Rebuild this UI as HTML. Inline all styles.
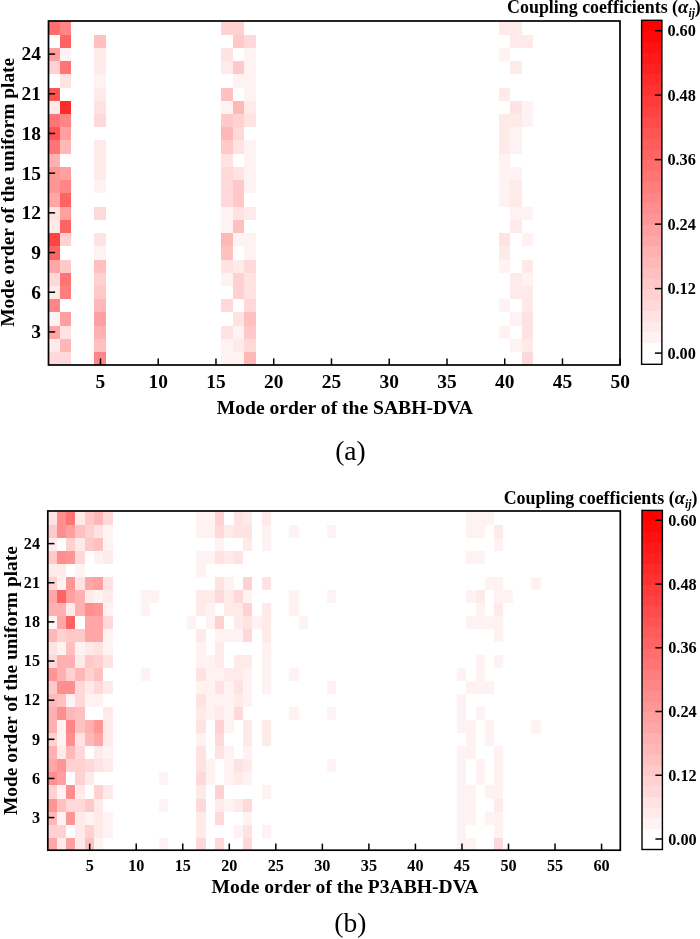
<!DOCTYPE html>
<html><head><meta charset="utf-8"><title>Coupling coefficients</title>
<style>html,body{margin:0;padding:0;background:#fff}svg{display:block;will-change:transform}
.b{font-family:"Liberation Serif",serif;font-weight:bold;fill:#000}
.r{font-family:"Liberation Serif",serif;font-size:27.5px;fill:#000}
</style></head><body>
<svg width="700" height="939" viewBox="0 0 700 939">
<rect width="700" height="939" fill="#fff"/>
<clipPath id="cpa"><rect x="48.5" y="21" width="571.5" height="344"/></clipPath>
<g shape-rendering="crispEdges" clip-path="url(#cpa)">
<rect x="48" y="352" width="12" height="13" fill="rgb(255,217,217)"/>
<rect x="48" y="339" width="12" height="13" fill="rgb(255,234,234)"/>
<rect x="48" y="326" width="12" height="13" fill="rgb(255,167,167)"/>
<rect x="48" y="312" width="12" height="14" fill="rgb(255,242,242)"/>
<rect x="48" y="299" width="12" height="13" fill="rgb(255,134,134)"/>
<rect x="48" y="286" width="12" height="13" fill="rgb(255,234,234)"/>
<rect x="48" y="273" width="12" height="13" fill="rgb(255,217,217)"/>
<rect x="48" y="260" width="12" height="13" fill="rgb(255,167,167)"/>
<rect x="48" y="246" width="12" height="14" fill="rgb(255,100,100)"/>
<rect x="48" y="233" width="12" height="13" fill="rgb(255,67,67)"/>
<rect x="48" y="220" width="12" height="13" fill="rgb(255,234,234)"/>
<rect x="48" y="207" width="12" height="13" fill="rgb(255,226,226)"/>
<rect x="48" y="193" width="12" height="14" fill="rgb(255,167,167)"/>
<rect x="48" y="180" width="12" height="13" fill="rgb(255,150,150)"/>
<rect x="48" y="167" width="12" height="13" fill="rgb(255,150,150)"/>
<rect x="48" y="154" width="12" height="13" fill="rgb(255,176,176)"/>
<rect x="48" y="140" width="12" height="14" fill="rgb(255,117,117)"/>
<rect x="48" y="127" width="12" height="13" fill="rgb(255,84,84)"/>
<rect x="48" y="114" width="12" height="13" fill="rgb(255,117,117)"/>
<rect x="48" y="101" width="12" height="13" fill="rgb(255,234,234)"/>
<rect x="48" y="88" width="12" height="13" fill="rgb(255,84,84)"/>
<rect x="48" y="61" width="12" height="13" fill="rgb(255,209,209)"/>
<rect x="48" y="48" width="12" height="13" fill="rgb(255,159,159)"/>
<rect x="48" y="21" width="12" height="14" fill="rgb(255,109,109)"/>
<rect x="60" y="352" width="11" height="13" fill="rgb(255,217,217)"/>
<rect x="60" y="339" width="11" height="13" fill="rgb(255,184,184)"/>
<rect x="60" y="326" width="11" height="13" fill="rgb(255,226,226)"/>
<rect x="60" y="312" width="11" height="14" fill="rgb(255,159,159)"/>
<rect x="60" y="286" width="11" height="13" fill="rgb(255,125,125)"/>
<rect x="60" y="273" width="11" height="13" fill="rgb(255,117,117)"/>
<rect x="60" y="260" width="11" height="13" fill="rgb(255,201,201)"/>
<rect x="60" y="233" width="11" height="13" fill="rgb(255,209,209)"/>
<rect x="60" y="220" width="11" height="13" fill="rgb(255,100,100)"/>
<rect x="60" y="207" width="11" height="13" fill="rgb(255,159,159)"/>
<rect x="60" y="193" width="11" height="14" fill="rgb(255,100,100)"/>
<rect x="60" y="180" width="11" height="13" fill="rgb(255,134,134)"/>
<rect x="60" y="167" width="11" height="13" fill="rgb(255,159,159)"/>
<rect x="60" y="140" width="11" height="14" fill="rgb(255,184,184)"/>
<rect x="60" y="127" width="11" height="13" fill="rgb(255,159,159)"/>
<rect x="60" y="114" width="11" height="13" fill="rgb(255,134,134)"/>
<rect x="60" y="101" width="11" height="13" fill="rgb(255,42,42)"/>
<rect x="60" y="74" width="11" height="14" fill="rgb(255,226,226)"/>
<rect x="60" y="61" width="11" height="13" fill="rgb(255,117,117)"/>
<rect x="60" y="48" width="11" height="13" fill="rgb(255,242,242)"/>
<rect x="60" y="35" width="11" height="13" fill="rgb(255,100,100)"/>
<rect x="60" y="21" width="11" height="14" fill="rgb(255,134,134)"/>
<rect x="94" y="352" width="12" height="13" fill="rgb(255,134,134)"/>
<rect x="94" y="339" width="12" height="13" fill="rgb(255,192,192)"/>
<rect x="94" y="326" width="12" height="13" fill="rgb(255,176,176)"/>
<rect x="94" y="312" width="12" height="14" fill="rgb(255,159,159)"/>
<rect x="94" y="299" width="12" height="13" fill="rgb(255,184,184)"/>
<rect x="94" y="286" width="12" height="13" fill="rgb(255,201,201)"/>
<rect x="94" y="273" width="12" height="13" fill="rgb(255,209,209)"/>
<rect x="94" y="260" width="12" height="13" fill="rgb(255,192,192)"/>
<rect x="94" y="246" width="12" height="14" fill="rgb(255,242,242)"/>
<rect x="94" y="233" width="12" height="13" fill="rgb(255,226,226)"/>
<rect x="94" y="207" width="12" height="13" fill="rgb(255,217,217)"/>
<rect x="94" y="180" width="12" height="13" fill="rgb(255,242,242)"/>
<rect x="94" y="167" width="12" height="13" fill="rgb(255,234,234)"/>
<rect x="94" y="154" width="12" height="13" fill="rgb(255,234,234)"/>
<rect x="94" y="140" width="12" height="14" fill="rgb(255,234,234)"/>
<rect x="94" y="114" width="12" height="13" fill="rgb(255,217,217)"/>
<rect x="94" y="101" width="12" height="13" fill="rgb(255,226,226)"/>
<rect x="94" y="88" width="12" height="13" fill="rgb(255,234,234)"/>
<rect x="94" y="74" width="12" height="14" fill="rgb(255,242,242)"/>
<rect x="94" y="61" width="12" height="13" fill="rgb(255,234,234)"/>
<rect x="94" y="48" width="12" height="13" fill="rgb(255,234,234)"/>
<rect x="94" y="35" width="12" height="13" fill="rgb(255,192,192)"/>
<rect x="221" y="352" width="12" height="13" fill="rgb(255,242,242)"/>
<rect x="221" y="339" width="12" height="13" fill="rgb(255,242,242)"/>
<rect x="221" y="326" width="12" height="13" fill="rgb(255,226,226)"/>
<rect x="221" y="299" width="12" height="13" fill="rgb(255,217,217)"/>
<rect x="221" y="273" width="12" height="13" fill="rgb(255,242,242)"/>
<rect x="221" y="260" width="12" height="13" fill="rgb(255,226,226)"/>
<rect x="221" y="246" width="12" height="14" fill="rgb(255,192,192)"/>
<rect x="221" y="233" width="12" height="13" fill="rgb(255,184,184)"/>
<rect x="221" y="220" width="12" height="13" fill="rgb(255,242,242)"/>
<rect x="221" y="207" width="12" height="13" fill="rgb(255,242,242)"/>
<rect x="221" y="193" width="12" height="14" fill="rgb(255,217,217)"/>
<rect x="221" y="180" width="12" height="13" fill="rgb(255,217,217)"/>
<rect x="221" y="167" width="12" height="13" fill="rgb(255,217,217)"/>
<rect x="221" y="154" width="12" height="13" fill="rgb(255,226,226)"/>
<rect x="221" y="140" width="12" height="14" fill="rgb(255,201,201)"/>
<rect x="221" y="127" width="12" height="13" fill="rgb(255,184,184)"/>
<rect x="221" y="114" width="12" height="13" fill="rgb(255,201,201)"/>
<rect x="221" y="101" width="12" height="13" fill="rgb(255,242,242)"/>
<rect x="221" y="88" width="12" height="13" fill="rgb(255,192,192)"/>
<rect x="221" y="61" width="12" height="13" fill="rgb(255,234,234)"/>
<rect x="221" y="48" width="12" height="13" fill="rgb(255,226,226)"/>
<rect x="221" y="21" width="12" height="14" fill="rgb(255,209,209)"/>
<rect x="233" y="352" width="11" height="13" fill="rgb(255,242,242)"/>
<rect x="233" y="339" width="11" height="13" fill="rgb(255,234,234)"/>
<rect x="233" y="326" width="11" height="13" fill="rgb(255,242,242)"/>
<rect x="233" y="312" width="11" height="14" fill="rgb(255,226,226)"/>
<rect x="233" y="286" width="11" height="13" fill="rgb(255,209,209)"/>
<rect x="233" y="273" width="11" height="13" fill="rgb(255,209,209)"/>
<rect x="233" y="260" width="11" height="13" fill="rgb(255,234,234)"/>
<rect x="233" y="233" width="11" height="13" fill="rgb(255,242,242)"/>
<rect x="233" y="220" width="11" height="13" fill="rgb(255,192,192)"/>
<rect x="233" y="207" width="11" height="13" fill="rgb(255,226,226)"/>
<rect x="233" y="193" width="11" height="14" fill="rgb(255,201,201)"/>
<rect x="233" y="180" width="11" height="13" fill="rgb(255,201,201)"/>
<rect x="233" y="167" width="11" height="13" fill="rgb(255,226,226)"/>
<rect x="233" y="140" width="11" height="14" fill="rgb(255,226,226)"/>
<rect x="233" y="127" width="11" height="13" fill="rgb(255,217,217)"/>
<rect x="233" y="114" width="11" height="13" fill="rgb(255,209,209)"/>
<rect x="233" y="101" width="11" height="13" fill="rgb(255,184,184)"/>
<rect x="233" y="74" width="11" height="14" fill="rgb(255,242,242)"/>
<rect x="233" y="61" width="11" height="13" fill="rgb(255,201,201)"/>
<rect x="233" y="35" width="11" height="13" fill="rgb(255,201,201)"/>
<rect x="233" y="21" width="11" height="14" fill="rgb(255,209,209)"/>
<rect x="244" y="352" width="12" height="13" fill="rgb(255,184,184)"/>
<rect x="244" y="339" width="12" height="13" fill="rgb(255,217,217)"/>
<rect x="244" y="326" width="12" height="13" fill="rgb(255,201,201)"/>
<rect x="244" y="312" width="12" height="14" fill="rgb(255,192,192)"/>
<rect x="244" y="299" width="12" height="13" fill="rgb(255,217,217)"/>
<rect x="244" y="286" width="12" height="13" fill="rgb(255,226,226)"/>
<rect x="244" y="273" width="12" height="13" fill="rgb(255,226,226)"/>
<rect x="244" y="260" width="12" height="13" fill="rgb(255,217,217)"/>
<rect x="244" y="246" width="12" height="14" fill="rgb(255,242,242)"/>
<rect x="244" y="233" width="12" height="13" fill="rgb(255,242,242)"/>
<rect x="244" y="207" width="12" height="13" fill="rgb(255,234,234)"/>
<rect x="244" y="180" width="12" height="13" fill="rgb(255,242,242)"/>
<rect x="244" y="167" width="12" height="13" fill="rgb(255,242,242)"/>
<rect x="244" y="154" width="12" height="13" fill="rgb(255,242,242)"/>
<rect x="244" y="140" width="12" height="14" fill="rgb(255,242,242)"/>
<rect x="244" y="114" width="12" height="13" fill="rgb(255,226,226)"/>
<rect x="244" y="101" width="12" height="13" fill="rgb(255,234,234)"/>
<rect x="244" y="88" width="12" height="13" fill="rgb(255,242,242)"/>
<rect x="244" y="74" width="12" height="14" fill="rgb(255,242,242)"/>
<rect x="244" y="61" width="12" height="13" fill="rgb(255,242,242)"/>
<rect x="244" y="48" width="12" height="13" fill="rgb(255,242,242)"/>
<rect x="244" y="35" width="12" height="13" fill="rgb(255,217,217)"/>
<rect x="499" y="326" width="11" height="13" fill="rgb(255,242,242)"/>
<rect x="499" y="299" width="11" height="13" fill="rgb(255,242,242)"/>
<rect x="499" y="260" width="11" height="13" fill="rgb(255,242,242)"/>
<rect x="499" y="246" width="11" height="14" fill="rgb(255,234,234)"/>
<rect x="499" y="233" width="11" height="13" fill="rgb(255,226,226)"/>
<rect x="499" y="193" width="11" height="14" fill="rgb(255,242,242)"/>
<rect x="499" y="180" width="11" height="13" fill="rgb(255,242,242)"/>
<rect x="499" y="167" width="11" height="13" fill="rgb(255,242,242)"/>
<rect x="499" y="154" width="11" height="13" fill="rgb(255,242,242)"/>
<rect x="499" y="140" width="11" height="14" fill="rgb(255,234,234)"/>
<rect x="499" y="127" width="11" height="13" fill="rgb(255,234,234)"/>
<rect x="499" y="114" width="11" height="13" fill="rgb(255,234,234)"/>
<rect x="499" y="88" width="11" height="13" fill="rgb(255,234,234)"/>
<rect x="499" y="48" width="11" height="13" fill="rgb(255,242,242)"/>
<rect x="499" y="21" width="11" height="14" fill="rgb(255,234,234)"/>
<rect x="510" y="339" width="12" height="13" fill="rgb(255,242,242)"/>
<rect x="510" y="312" width="12" height="14" fill="rgb(255,242,242)"/>
<rect x="510" y="286" width="12" height="13" fill="rgb(255,234,234)"/>
<rect x="510" y="273" width="12" height="13" fill="rgb(255,234,234)"/>
<rect x="510" y="220" width="12" height="13" fill="rgb(255,234,234)"/>
<rect x="510" y="207" width="12" height="13" fill="rgb(255,242,242)"/>
<rect x="510" y="193" width="12" height="14" fill="rgb(255,234,234)"/>
<rect x="510" y="180" width="12" height="13" fill="rgb(255,234,234)"/>
<rect x="510" y="167" width="12" height="13" fill="rgb(255,242,242)"/>
<rect x="510" y="140" width="12" height="14" fill="rgb(255,242,242)"/>
<rect x="510" y="127" width="12" height="13" fill="rgb(255,242,242)"/>
<rect x="510" y="114" width="12" height="13" fill="rgb(255,234,234)"/>
<rect x="510" y="101" width="12" height="13" fill="rgb(255,226,226)"/>
<rect x="510" y="61" width="12" height="13" fill="rgb(255,234,234)"/>
<rect x="510" y="35" width="12" height="13" fill="rgb(255,234,234)"/>
<rect x="510" y="21" width="12" height="14" fill="rgb(255,234,234)"/>
<rect x="522" y="352" width="11" height="13" fill="rgb(255,217,217)"/>
<rect x="522" y="339" width="11" height="13" fill="rgb(255,234,234)"/>
<rect x="522" y="326" width="11" height="13" fill="rgb(255,226,226)"/>
<rect x="522" y="312" width="11" height="14" fill="rgb(255,226,226)"/>
<rect x="522" y="299" width="11" height="13" fill="rgb(255,234,234)"/>
<rect x="522" y="286" width="11" height="13" fill="rgb(255,234,234)"/>
<rect x="522" y="273" width="11" height="13" fill="rgb(255,242,242)"/>
<rect x="522" y="260" width="11" height="13" fill="rgb(255,234,234)"/>
<rect x="522" y="233" width="11" height="13" fill="rgb(255,242,242)"/>
<rect x="522" y="207" width="11" height="13" fill="rgb(255,242,242)"/>
<rect x="522" y="114" width="11" height="13" fill="rgb(255,242,242)"/>
<rect x="522" y="101" width="11" height="13" fill="rgb(255,242,242)"/>
<rect x="522" y="35" width="11" height="13" fill="rgb(255,234,234)"/>
</g>
<rect x="48.5" y="21" width="571.5" height="344" fill="none" stroke="#000" stroke-width="1.7"/>
<line x1="48.5" x2="55.1" y1="331.92" y2="331.92" stroke="#000" stroke-width="1.5"/>
<text x="40.9" y="338.28" text-anchor="end" class="b" font-size="19.4">3</text>
<line x1="48.5" x2="55.1" y1="292.23" y2="292.23" stroke="#000" stroke-width="1.5"/>
<text x="40.9" y="298.59" text-anchor="end" class="b" font-size="19.4">6</text>
<line x1="48.5" x2="55.1" y1="252.54" y2="252.54" stroke="#000" stroke-width="1.5"/>
<text x="40.9" y="258.9" text-anchor="end" class="b" font-size="19.4">9</text>
<line x1="48.5" x2="55.1" y1="212.85" y2="212.85" stroke="#000" stroke-width="1.5"/>
<text x="40.9" y="219.2" text-anchor="end" class="b" font-size="19.4">12</text>
<line x1="48.5" x2="55.1" y1="173.15" y2="173.15" stroke="#000" stroke-width="1.5"/>
<text x="40.9" y="179.51" text-anchor="end" class="b" font-size="19.4">15</text>
<line x1="48.5" x2="55.1" y1="133.46" y2="133.46" stroke="#000" stroke-width="1.5"/>
<text x="40.9" y="139.82" text-anchor="end" class="b" font-size="19.4">18</text>
<line x1="48.5" x2="55.1" y1="93.77" y2="93.77" stroke="#000" stroke-width="1.5"/>
<text x="40.9" y="100.13" text-anchor="end" class="b" font-size="19.4">21</text>
<line x1="48.5" x2="55.1" y1="54.08" y2="54.08" stroke="#000" stroke-width="1.5"/>
<text x="40.9" y="60.43" text-anchor="end" class="b" font-size="19.4">24</text>
<line x1="100.47" x2="100.47" y1="365" y2="358.4" stroke="#000" stroke-width="1.5"/>
<text x="100.47" y="387.8" text-anchor="middle" class="b" font-size="19.4">5</text>
<line x1="158.23" x2="158.23" y1="365" y2="358.4" stroke="#000" stroke-width="1.5"/>
<text x="158.23" y="387.8" text-anchor="middle" class="b" font-size="19.4">10</text>
<line x1="215.98" x2="215.98" y1="365" y2="358.4" stroke="#000" stroke-width="1.5"/>
<text x="215.98" y="387.8" text-anchor="middle" class="b" font-size="19.4">15</text>
<line x1="273.73" x2="273.73" y1="365" y2="358.4" stroke="#000" stroke-width="1.5"/>
<text x="273.73" y="387.8" text-anchor="middle" class="b" font-size="19.4">20</text>
<line x1="331.48" x2="331.48" y1="365" y2="358.4" stroke="#000" stroke-width="1.5"/>
<text x="331.48" y="387.8" text-anchor="middle" class="b" font-size="19.4">25</text>
<line x1="389.23" x2="389.23" y1="365" y2="358.4" stroke="#000" stroke-width="1.5"/>
<text x="389.23" y="387.8" text-anchor="middle" class="b" font-size="19.4">30</text>
<line x1="446.98" x2="446.98" y1="365" y2="358.4" stroke="#000" stroke-width="1.5"/>
<text x="446.98" y="387.8" text-anchor="middle" class="b" font-size="19.4">35</text>
<line x1="504.73" x2="504.73" y1="365" y2="358.4" stroke="#000" stroke-width="1.5"/>
<text x="504.73" y="387.8" text-anchor="middle" class="b" font-size="19.4">40</text>
<line x1="562.48" x2="562.48" y1="365" y2="358.4" stroke="#000" stroke-width="1.5"/>
<text x="562.48" y="387.8" text-anchor="middle" class="b" font-size="19.4">45</text>
<line x1="620.23" x2="620.23" y1="365" y2="358.4" stroke="#000" stroke-width="1.5"/>
<text x="620.23" y="387.8" text-anchor="middle" class="b" font-size="19.4">50</text>
<text x="344.8" y="413.5" text-anchor="middle" class="b" font-size="19.6">Mode order of the SABH-DVA</text>
<text transform="translate(14.3,192.3) rotate(-90)" text-anchor="middle" class="b" font-size="19.45">Mode order of the uniform plate</text>
<g shape-rendering="crispEdges">
<rect x="641.6" y="353.55" width="20.3" height="11.15" fill="rgb(255,255,255)"/>
<rect x="641.6" y="342.8" width="20.3" height="11.15" fill="rgb(255,255,255)"/>
<rect x="641.6" y="332.05" width="20.3" height="11.15" fill="rgb(255,242,242)"/>
<rect x="641.6" y="321.3" width="20.3" height="11.15" fill="rgb(255,234,234)"/>
<rect x="641.6" y="310.55" width="20.3" height="11.15" fill="rgb(255,226,226)"/>
<rect x="641.6" y="299.8" width="20.3" height="11.15" fill="rgb(255,217,217)"/>
<rect x="641.6" y="289.05" width="20.3" height="11.15" fill="rgb(255,209,209)"/>
<rect x="641.6" y="278.3" width="20.3" height="11.15" fill="rgb(255,201,201)"/>
<rect x="641.6" y="267.55" width="20.3" height="11.15" fill="rgb(255,192,192)"/>
<rect x="641.6" y="256.8" width="20.3" height="11.15" fill="rgb(255,184,184)"/>
<rect x="641.6" y="246.05" width="20.3" height="11.15" fill="rgb(255,176,176)"/>
<rect x="641.6" y="235.3" width="20.3" height="11.15" fill="rgb(255,167,167)"/>
<rect x="641.6" y="224.55" width="20.3" height="11.15" fill="rgb(255,159,159)"/>
<rect x="641.6" y="213.8" width="20.3" height="11.15" fill="rgb(255,150,150)"/>
<rect x="641.6" y="203.05" width="20.3" height="11.15" fill="rgb(255,142,142)"/>
<rect x="641.6" y="192.3" width="20.3" height="11.15" fill="rgb(255,134,134)"/>
<rect x="641.6" y="181.55" width="20.3" height="11.15" fill="rgb(255,125,125)"/>
<rect x="641.6" y="170.8" width="20.3" height="11.15" fill="rgb(255,117,117)"/>
<rect x="641.6" y="160.05" width="20.3" height="11.15" fill="rgb(255,109,109)"/>
<rect x="641.6" y="149.3" width="20.3" height="11.15" fill="rgb(255,100,100)"/>
<rect x="641.6" y="138.55" width="20.3" height="11.15" fill="rgb(255,92,92)"/>
<rect x="641.6" y="127.8" width="20.3" height="11.15" fill="rgb(255,84,84)"/>
<rect x="641.6" y="117.05" width="20.3" height="11.15" fill="rgb(255,75,75)"/>
<rect x="641.6" y="106.3" width="20.3" height="11.15" fill="rgb(255,67,67)"/>
<rect x="641.6" y="95.55" width="20.3" height="11.15" fill="rgb(255,59,59)"/>
<rect x="641.6" y="84.8" width="20.3" height="11.15" fill="rgb(255,50,50)"/>
<rect x="641.6" y="74.05" width="20.3" height="11.15" fill="rgb(255,42,42)"/>
<rect x="641.6" y="63.3" width="20.3" height="11.15" fill="rgb(255,33,33)"/>
<rect x="641.6" y="52.55" width="20.3" height="11.15" fill="rgb(255,25,25)"/>
<rect x="641.6" y="41.8" width="20.3" height="11.15" fill="rgb(255,17,17)"/>
<rect x="641.6" y="31.05" width="20.3" height="11.15" fill="rgb(255,8,8)"/>
<rect x="641.6" y="20.3" width="20.3" height="11.15" fill="rgb(255,0,0)"/>
</g>
<rect x="641.6" y="20.3" width="20.3" height="344" fill="none" stroke="#000" stroke-width="1.4"/>
<line x1="661.9" x2="654.9" y1="353.1" y2="353.1" stroke="#000" stroke-width="1.5"/>
<text x="667.4" y="358.6" class="b" font-size="16.3">0.00</text>
<line x1="661.9" x2="654.9" y1="288.62" y2="288.62" stroke="#000" stroke-width="1.5"/>
<text x="667.4" y="294.12" class="b" font-size="16.3">0.12</text>
<line x1="661.9" x2="654.9" y1="224.14" y2="224.14" stroke="#000" stroke-width="1.5"/>
<text x="667.4" y="229.64" class="b" font-size="16.3">0.24</text>
<line x1="661.9" x2="654.9" y1="159.66" y2="159.66" stroke="#000" stroke-width="1.5"/>
<text x="667.4" y="165.16" class="b" font-size="16.3">0.36</text>
<line x1="661.9" x2="654.9" y1="95.18" y2="95.18" stroke="#000" stroke-width="1.5"/>
<text x="667.4" y="100.68" class="b" font-size="16.3">0.48</text>
<line x1="661.9" x2="654.9" y1="30.7" y2="30.7" stroke="#000" stroke-width="1.5"/>
<text x="667.4" y="36.2" class="b" font-size="16.3">0.60</text>
<text x="700.8" y="12.6" text-anchor="end" class="b" font-size="17.9">Coupling coefficients (<tspan font-style="italic" font-size="18.8">&#945;</tspan><tspan font-style="italic" font-size="11.5" dy="4">ij</tspan><tspan dy="-4">)</tspan></text>
<text x="350.4" y="460.2" text-anchor="middle" class="r">(a)</text>
<clipPath id="cpb"><rect x="47.8" y="511" width="572.5" height="339.2"/></clipPath>
<g shape-rendering="crispEdges" clip-path="url(#cpb)">
<rect x="47" y="838" width="10" height="13" fill="rgb(255,167,167)"/>
<rect x="47" y="825" width="10" height="13" fill="rgb(255,209,209)"/>
<rect x="47" y="812" width="10" height="13" fill="rgb(255,184,184)"/>
<rect x="47" y="799" width="10" height="13" fill="rgb(255,150,150)"/>
<rect x="47" y="785" width="10" height="14" fill="rgb(255,209,209)"/>
<rect x="47" y="772" width="10" height="13" fill="rgb(255,142,142)"/>
<rect x="47" y="759" width="10" height="13" fill="rgb(255,167,167)"/>
<rect x="47" y="746" width="10" height="13" fill="rgb(255,176,176)"/>
<rect x="47" y="733" width="10" height="13" fill="rgb(255,209,209)"/>
<rect x="47" y="720" width="10" height="13" fill="rgb(255,176,176)"/>
<rect x="47" y="707" width="10" height="13" fill="rgb(255,176,176)"/>
<rect x="47" y="694" width="10" height="13" fill="rgb(255,184,184)"/>
<rect x="47" y="681" width="10" height="13" fill="rgb(255,201,201)"/>
<rect x="47" y="668" width="10" height="13" fill="rgb(255,150,150)"/>
<rect x="47" y="655" width="10" height="13" fill="rgb(255,217,217)"/>
<rect x="47" y="642" width="10" height="13" fill="rgb(255,226,226)"/>
<rect x="47" y="629" width="10" height="13" fill="rgb(255,184,184)"/>
<rect x="47" y="616" width="10" height="13" fill="rgb(255,242,242)"/>
<rect x="47" y="603" width="10" height="13" fill="rgb(255,176,176)"/>
<rect x="47" y="590" width="10" height="13" fill="rgb(255,167,167)"/>
<rect x="47" y="577" width="10" height="13" fill="rgb(255,209,209)"/>
<rect x="47" y="564" width="10" height="13" fill="rgb(255,234,234)"/>
<rect x="47" y="551" width="10" height="13" fill="rgb(255,201,201)"/>
<rect x="47" y="538" width="10" height="13" fill="rgb(255,234,234)"/>
<rect x="47" y="525" width="10" height="13" fill="rgb(255,201,201)"/>
<rect x="47" y="512" width="10" height="13" fill="rgb(255,226,226)"/>
<rect x="57" y="838" width="9" height="13" fill="rgb(255,234,234)"/>
<rect x="57" y="825" width="9" height="13" fill="rgb(255,209,209)"/>
<rect x="57" y="812" width="9" height="13" fill="rgb(255,242,242)"/>
<rect x="57" y="799" width="9" height="13" fill="rgb(255,192,192)"/>
<rect x="57" y="785" width="9" height="14" fill="rgb(255,242,242)"/>
<rect x="57" y="772" width="9" height="13" fill="rgb(255,159,159)"/>
<rect x="57" y="759" width="9" height="13" fill="rgb(255,150,150)"/>
<rect x="57" y="746" width="9" height="13" fill="rgb(255,234,234)"/>
<rect x="57" y="733" width="9" height="13" fill="rgb(255,242,242)"/>
<rect x="57" y="720" width="9" height="13" fill="rgb(255,242,242)"/>
<rect x="57" y="707" width="9" height="13" fill="rgb(255,142,142)"/>
<rect x="57" y="694" width="9" height="13" fill="rgb(255,192,192)"/>
<rect x="57" y="681" width="9" height="13" fill="rgb(255,142,142)"/>
<rect x="57" y="668" width="9" height="13" fill="rgb(255,176,176)"/>
<rect x="57" y="655" width="9" height="13" fill="rgb(255,176,176)"/>
<rect x="57" y="642" width="9" height="13" fill="rgb(255,242,242)"/>
<rect x="57" y="629" width="9" height="13" fill="rgb(255,209,209)"/>
<rect x="57" y="616" width="9" height="13" fill="rgb(255,167,167)"/>
<rect x="57" y="603" width="9" height="13" fill="rgb(255,176,176)"/>
<rect x="57" y="590" width="9" height="13" fill="rgb(255,100,100)"/>
<rect x="57" y="577" width="9" height="13" fill="rgb(255,242,242)"/>
<rect x="57" y="564" width="9" height="13" fill="rgb(255,234,234)"/>
<rect x="57" y="551" width="9" height="13" fill="rgb(255,142,142)"/>
<rect x="57" y="525" width="9" height="13" fill="rgb(255,142,142)"/>
<rect x="57" y="512" width="9" height="13" fill="rgb(255,142,142)"/>
<rect x="66" y="838" width="9" height="13" fill="rgb(255,159,159)"/>
<rect x="66" y="812" width="9" height="13" fill="rgb(255,150,150)"/>
<rect x="66" y="799" width="9" height="13" fill="rgb(255,217,217)"/>
<rect x="66" y="785" width="9" height="14" fill="rgb(255,142,142)"/>
<rect x="66" y="759" width="9" height="13" fill="rgb(255,209,209)"/>
<rect x="66" y="746" width="9" height="13" fill="rgb(255,184,184)"/>
<rect x="66" y="733" width="9" height="13" fill="rgb(255,142,142)"/>
<rect x="66" y="720" width="9" height="13" fill="rgb(255,134,134)"/>
<rect x="66" y="707" width="9" height="13" fill="rgb(255,184,184)"/>
<rect x="66" y="694" width="9" height="13" fill="rgb(255,242,242)"/>
<rect x="66" y="681" width="9" height="13" fill="rgb(255,142,142)"/>
<rect x="66" y="668" width="9" height="13" fill="rgb(255,209,209)"/>
<rect x="66" y="655" width="9" height="13" fill="rgb(255,176,176)"/>
<rect x="66" y="642" width="9" height="13" fill="rgb(255,192,192)"/>
<rect x="66" y="629" width="9" height="13" fill="rgb(255,201,201)"/>
<rect x="66" y="616" width="9" height="13" fill="rgb(255,100,100)"/>
<rect x="66" y="603" width="9" height="13" fill="rgb(255,234,234)"/>
<rect x="66" y="590" width="9" height="13" fill="rgb(255,159,159)"/>
<rect x="66" y="577" width="9" height="13" fill="rgb(255,150,150)"/>
<rect x="66" y="551" width="9" height="13" fill="rgb(255,150,150)"/>
<rect x="66" y="538" width="9" height="13" fill="rgb(255,209,209)"/>
<rect x="66" y="525" width="9" height="13" fill="rgb(255,159,159)"/>
<rect x="66" y="512" width="9" height="13" fill="rgb(255,117,117)"/>
<rect x="75" y="838" width="10" height="13" fill="rgb(255,234,234)"/>
<rect x="75" y="825" width="10" height="13" fill="rgb(255,234,234)"/>
<rect x="75" y="812" width="10" height="13" fill="rgb(255,234,234)"/>
<rect x="75" y="799" width="10" height="13" fill="rgb(255,217,217)"/>
<rect x="75" y="785" width="10" height="14" fill="rgb(255,234,234)"/>
<rect x="75" y="772" width="10" height="13" fill="rgb(255,209,209)"/>
<rect x="75" y="759" width="10" height="13" fill="rgb(255,209,209)"/>
<rect x="75" y="746" width="10" height="13" fill="rgb(255,217,217)"/>
<rect x="75" y="733" width="10" height="13" fill="rgb(255,226,226)"/>
<rect x="75" y="720" width="10" height="13" fill="rgb(255,192,192)"/>
<rect x="75" y="707" width="10" height="13" fill="rgb(255,192,192)"/>
<rect x="75" y="694" width="10" height="13" fill="rgb(255,217,217)"/>
<rect x="75" y="681" width="10" height="13" fill="rgb(255,217,217)"/>
<rect x="75" y="668" width="10" height="13" fill="rgb(255,184,184)"/>
<rect x="75" y="655" width="10" height="13" fill="rgb(255,234,234)"/>
<rect x="75" y="642" width="10" height="13" fill="rgb(255,242,242)"/>
<rect x="75" y="629" width="10" height="13" fill="rgb(255,201,201)"/>
<rect x="75" y="603" width="10" height="13" fill="rgb(255,176,176)"/>
<rect x="75" y="590" width="10" height="13" fill="rgb(255,176,176)"/>
<rect x="75" y="577" width="10" height="13" fill="rgb(255,226,226)"/>
<rect x="75" y="564" width="10" height="13" fill="rgb(255,242,242)"/>
<rect x="75" y="551" width="10" height="13" fill="rgb(255,217,217)"/>
<rect x="75" y="538" width="10" height="13" fill="rgb(255,234,234)"/>
<rect x="75" y="525" width="10" height="13" fill="rgb(255,192,192)"/>
<rect x="75" y="512" width="10" height="13" fill="rgb(255,234,234)"/>
<rect x="85" y="838" width="9" height="13" fill="rgb(255,192,192)"/>
<rect x="85" y="825" width="9" height="13" fill="rgb(255,209,209)"/>
<rect x="85" y="812" width="9" height="13" fill="rgb(255,242,242)"/>
<rect x="85" y="799" width="9" height="13" fill="rgb(255,201,201)"/>
<rect x="85" y="772" width="9" height="13" fill="rgb(255,234,234)"/>
<rect x="85" y="759" width="9" height="13" fill="rgb(255,217,217)"/>
<rect x="85" y="733" width="9" height="13" fill="rgb(255,184,184)"/>
<rect x="85" y="720" width="9" height="13" fill="rgb(255,176,176)"/>
<rect x="85" y="694" width="9" height="13" fill="rgb(255,242,242)"/>
<rect x="85" y="681" width="9" height="13" fill="rgb(255,234,234)"/>
<rect x="85" y="668" width="9" height="13" fill="rgb(255,209,209)"/>
<rect x="85" y="655" width="9" height="13" fill="rgb(255,201,201)"/>
<rect x="85" y="642" width="9" height="13" fill="rgb(255,234,234)"/>
<rect x="85" y="629" width="9" height="13" fill="rgb(255,167,167)"/>
<rect x="85" y="616" width="9" height="13" fill="rgb(255,167,167)"/>
<rect x="85" y="603" width="9" height="13" fill="rgb(255,142,142)"/>
<rect x="85" y="590" width="9" height="13" fill="rgb(255,234,234)"/>
<rect x="85" y="577" width="9" height="13" fill="rgb(255,167,167)"/>
<rect x="85" y="538" width="9" height="13" fill="rgb(255,201,201)"/>
<rect x="85" y="525" width="9" height="13" fill="rgb(255,209,209)"/>
<rect x="85" y="512" width="9" height="13" fill="rgb(255,201,201)"/>
<rect x="94" y="838" width="9" height="13" fill="rgb(255,242,242)"/>
<rect x="94" y="825" width="9" height="13" fill="rgb(255,234,234)"/>
<rect x="94" y="812" width="9" height="13" fill="rgb(255,234,234)"/>
<rect x="94" y="799" width="9" height="13" fill="rgb(255,234,234)"/>
<rect x="94" y="785" width="9" height="14" fill="rgb(255,209,209)"/>
<rect x="94" y="759" width="9" height="13" fill="rgb(255,226,226)"/>
<rect x="94" y="746" width="9" height="13" fill="rgb(255,234,234)"/>
<rect x="94" y="733" width="9" height="13" fill="rgb(255,167,167)"/>
<rect x="94" y="720" width="9" height="13" fill="rgb(255,150,150)"/>
<rect x="94" y="694" width="9" height="13" fill="rgb(255,242,242)"/>
<rect x="94" y="681" width="9" height="13" fill="rgb(255,217,217)"/>
<rect x="94" y="668" width="9" height="13" fill="rgb(255,192,192)"/>
<rect x="94" y="655" width="9" height="13" fill="rgb(255,209,209)"/>
<rect x="94" y="642" width="9" height="13" fill="rgb(255,226,226)"/>
<rect x="94" y="629" width="9" height="13" fill="rgb(255,167,167)"/>
<rect x="94" y="616" width="9" height="13" fill="rgb(255,167,167)"/>
<rect x="94" y="603" width="9" height="13" fill="rgb(255,150,150)"/>
<rect x="94" y="590" width="9" height="13" fill="rgb(255,242,242)"/>
<rect x="94" y="577" width="9" height="13" fill="rgb(255,159,159)"/>
<rect x="94" y="551" width="9" height="13" fill="rgb(255,242,242)"/>
<rect x="94" y="538" width="9" height="13" fill="rgb(255,192,192)"/>
<rect x="94" y="525" width="9" height="13" fill="rgb(255,226,226)"/>
<rect x="94" y="512" width="9" height="13" fill="rgb(255,184,184)"/>
<rect x="103" y="825" width="10" height="13" fill="rgb(255,242,242)"/>
<rect x="103" y="812" width="10" height="13" fill="rgb(255,242,242)"/>
<rect x="103" y="785" width="10" height="14" fill="rgb(255,234,234)"/>
<rect x="103" y="759" width="10" height="13" fill="rgb(255,234,234)"/>
<rect x="103" y="746" width="10" height="13" fill="rgb(255,242,242)"/>
<rect x="103" y="733" width="10" height="13" fill="rgb(255,234,234)"/>
<rect x="103" y="720" width="10" height="13" fill="rgb(255,234,234)"/>
<rect x="103" y="707" width="10" height="13" fill="rgb(255,234,234)"/>
<rect x="103" y="681" width="10" height="13" fill="rgb(255,234,234)"/>
<rect x="103" y="655" width="10" height="13" fill="rgb(255,226,226)"/>
<rect x="103" y="642" width="10" height="13" fill="rgb(255,242,242)"/>
<rect x="103" y="629" width="10" height="13" fill="rgb(255,242,242)"/>
<rect x="103" y="616" width="10" height="13" fill="rgb(255,217,217)"/>
<rect x="103" y="603" width="10" height="13" fill="rgb(255,242,242)"/>
<rect x="103" y="590" width="10" height="13" fill="rgb(255,234,234)"/>
<rect x="103" y="577" width="10" height="13" fill="rgb(255,226,226)"/>
<rect x="103" y="551" width="10" height="13" fill="rgb(255,234,234)"/>
<rect x="103" y="538" width="10" height="13" fill="rgb(255,242,242)"/>
<rect x="103" y="525" width="10" height="13" fill="rgb(255,242,242)"/>
<rect x="103" y="512" width="10" height="13" fill="rgb(255,217,217)"/>
<rect x="141" y="668" width="9" height="13" fill="rgb(255,242,242)"/>
<rect x="141" y="603" width="9" height="13" fill="rgb(255,242,242)"/>
<rect x="141" y="590" width="9" height="13" fill="rgb(255,242,242)"/>
<rect x="150" y="590" width="9" height="13" fill="rgb(255,242,242)"/>
<rect x="159" y="838" width="9" height="13" fill="rgb(255,242,242)"/>
<rect x="159" y="799" width="9" height="13" fill="rgb(255,242,242)"/>
<rect x="159" y="772" width="9" height="13" fill="rgb(255,242,242)"/>
<rect x="187" y="616" width="9" height="13" fill="rgb(255,242,242)"/>
<rect x="196" y="838" width="10" height="13" fill="rgb(255,217,217)"/>
<rect x="196" y="825" width="10" height="13" fill="rgb(255,234,234)"/>
<rect x="196" y="812" width="10" height="13" fill="rgb(255,234,234)"/>
<rect x="196" y="799" width="10" height="13" fill="rgb(255,217,217)"/>
<rect x="196" y="785" width="10" height="14" fill="rgb(255,234,234)"/>
<rect x="196" y="772" width="10" height="13" fill="rgb(255,217,217)"/>
<rect x="196" y="759" width="10" height="13" fill="rgb(255,226,226)"/>
<rect x="196" y="746" width="10" height="13" fill="rgb(255,226,226)"/>
<rect x="196" y="733" width="10" height="13" fill="rgb(255,242,242)"/>
<rect x="196" y="720" width="10" height="13" fill="rgb(255,226,226)"/>
<rect x="196" y="707" width="10" height="13" fill="rgb(255,234,234)"/>
<rect x="196" y="694" width="10" height="13" fill="rgb(255,226,226)"/>
<rect x="196" y="681" width="10" height="13" fill="rgb(255,242,242)"/>
<rect x="196" y="668" width="10" height="13" fill="rgb(255,226,226)"/>
<rect x="196" y="655" width="10" height="13" fill="rgb(255,242,242)"/>
<rect x="196" y="642" width="10" height="13" fill="rgb(255,242,242)"/>
<rect x="196" y="629" width="10" height="13" fill="rgb(255,234,234)"/>
<rect x="196" y="603" width="10" height="13" fill="rgb(255,234,234)"/>
<rect x="196" y="590" width="10" height="13" fill="rgb(255,234,234)"/>
<rect x="196" y="564" width="10" height="13" fill="rgb(255,242,242)"/>
<rect x="196" y="551" width="10" height="13" fill="rgb(255,242,242)"/>
<rect x="196" y="525" width="10" height="13" fill="rgb(255,242,242)"/>
<rect x="196" y="512" width="10" height="13" fill="rgb(255,242,242)"/>
<rect x="206" y="772" width="9" height="13" fill="rgb(255,242,242)"/>
<rect x="206" y="759" width="9" height="13" fill="rgb(255,242,242)"/>
<rect x="206" y="707" width="9" height="13" fill="rgb(255,242,242)"/>
<rect x="206" y="694" width="9" height="13" fill="rgb(255,242,242)"/>
<rect x="206" y="681" width="9" height="13" fill="rgb(255,242,242)"/>
<rect x="206" y="668" width="9" height="13" fill="rgb(255,242,242)"/>
<rect x="206" y="655" width="9" height="13" fill="rgb(255,242,242)"/>
<rect x="206" y="616" width="9" height="13" fill="rgb(255,242,242)"/>
<rect x="206" y="603" width="9" height="13" fill="rgb(255,242,242)"/>
<rect x="206" y="590" width="9" height="13" fill="rgb(255,234,234)"/>
<rect x="206" y="551" width="9" height="13" fill="rgb(255,242,242)"/>
<rect x="206" y="525" width="9" height="13" fill="rgb(255,242,242)"/>
<rect x="206" y="512" width="9" height="13" fill="rgb(255,242,242)"/>
<rect x="215" y="838" width="9" height="13" fill="rgb(255,217,217)"/>
<rect x="215" y="812" width="9" height="13" fill="rgb(255,217,217)"/>
<rect x="215" y="799" width="9" height="13" fill="rgb(255,234,234)"/>
<rect x="215" y="785" width="9" height="14" fill="rgb(255,209,209)"/>
<rect x="215" y="746" width="9" height="13" fill="rgb(255,226,226)"/>
<rect x="215" y="733" width="9" height="13" fill="rgb(255,217,217)"/>
<rect x="215" y="720" width="9" height="13" fill="rgb(255,209,209)"/>
<rect x="215" y="707" width="9" height="13" fill="rgb(255,234,234)"/>
<rect x="215" y="694" width="9" height="13" fill="rgb(255,242,242)"/>
<rect x="215" y="681" width="9" height="13" fill="rgb(255,226,226)"/>
<rect x="215" y="668" width="9" height="13" fill="rgb(255,242,242)"/>
<rect x="215" y="655" width="9" height="13" fill="rgb(255,234,234)"/>
<rect x="215" y="642" width="9" height="13" fill="rgb(255,234,234)"/>
<rect x="215" y="629" width="9" height="13" fill="rgb(255,242,242)"/>
<rect x="215" y="616" width="9" height="13" fill="rgb(255,209,209)"/>
<rect x="215" y="590" width="9" height="13" fill="rgb(255,217,217)"/>
<rect x="215" y="577" width="9" height="13" fill="rgb(255,226,226)"/>
<rect x="215" y="551" width="9" height="13" fill="rgb(255,226,226)"/>
<rect x="215" y="538" width="9" height="13" fill="rgb(255,242,242)"/>
<rect x="215" y="525" width="9" height="13" fill="rgb(255,217,217)"/>
<rect x="215" y="512" width="9" height="13" fill="rgb(255,209,209)"/>
<rect x="224" y="799" width="10" height="13" fill="rgb(255,242,242)"/>
<rect x="224" y="772" width="10" height="13" fill="rgb(255,242,242)"/>
<rect x="224" y="759" width="10" height="13" fill="rgb(255,242,242)"/>
<rect x="224" y="746" width="10" height="13" fill="rgb(255,242,242)"/>
<rect x="224" y="720" width="10" height="13" fill="rgb(255,242,242)"/>
<rect x="224" y="707" width="10" height="13" fill="rgb(255,242,242)"/>
<rect x="224" y="694" width="10" height="13" fill="rgb(255,242,242)"/>
<rect x="224" y="681" width="10" height="13" fill="rgb(255,242,242)"/>
<rect x="224" y="668" width="10" height="13" fill="rgb(255,234,234)"/>
<rect x="224" y="629" width="10" height="13" fill="rgb(255,242,242)"/>
<rect x="224" y="603" width="10" height="13" fill="rgb(255,234,234)"/>
<rect x="224" y="590" width="10" height="13" fill="rgb(255,234,234)"/>
<rect x="224" y="577" width="10" height="13" fill="rgb(255,242,242)"/>
<rect x="224" y="551" width="10" height="13" fill="rgb(255,234,234)"/>
<rect x="224" y="525" width="10" height="13" fill="rgb(255,234,234)"/>
<rect x="234" y="825" width="9" height="13" fill="rgb(255,242,242)"/>
<rect x="234" y="799" width="9" height="13" fill="rgb(255,234,234)"/>
<rect x="234" y="772" width="9" height="13" fill="rgb(255,234,234)"/>
<rect x="234" y="759" width="9" height="13" fill="rgb(255,226,226)"/>
<rect x="234" y="707" width="9" height="13" fill="rgb(255,217,217)"/>
<rect x="234" y="694" width="9" height="13" fill="rgb(255,234,234)"/>
<rect x="234" y="681" width="9" height="13" fill="rgb(255,226,226)"/>
<rect x="234" y="668" width="9" height="13" fill="rgb(255,234,234)"/>
<rect x="234" y="655" width="9" height="13" fill="rgb(255,234,234)"/>
<rect x="234" y="629" width="9" height="13" fill="rgb(255,242,242)"/>
<rect x="234" y="616" width="9" height="13" fill="rgb(255,234,234)"/>
<rect x="234" y="603" width="9" height="13" fill="rgb(255,234,234)"/>
<rect x="234" y="590" width="9" height="13" fill="rgb(255,217,217)"/>
<rect x="234" y="551" width="9" height="13" fill="rgb(255,226,226)"/>
<rect x="234" y="525" width="9" height="13" fill="rgb(255,226,226)"/>
<rect x="234" y="512" width="9" height="13" fill="rgb(255,226,226)"/>
<rect x="243" y="838" width="9" height="13" fill="rgb(255,217,217)"/>
<rect x="243" y="825" width="9" height="13" fill="rgb(255,226,226)"/>
<rect x="243" y="812" width="9" height="13" fill="rgb(255,242,242)"/>
<rect x="243" y="799" width="9" height="13" fill="rgb(255,217,217)"/>
<rect x="243" y="772" width="9" height="13" fill="rgb(255,242,242)"/>
<rect x="243" y="759" width="9" height="13" fill="rgb(255,234,234)"/>
<rect x="243" y="746" width="9" height="13" fill="rgb(255,242,242)"/>
<rect x="243" y="733" width="9" height="13" fill="rgb(255,234,234)"/>
<rect x="243" y="720" width="9" height="13" fill="rgb(255,234,234)"/>
<rect x="243" y="694" width="9" height="13" fill="rgb(255,242,242)"/>
<rect x="243" y="681" width="9" height="13" fill="rgb(255,242,242)"/>
<rect x="243" y="668" width="9" height="13" fill="rgb(255,242,242)"/>
<rect x="243" y="655" width="9" height="13" fill="rgb(255,234,234)"/>
<rect x="243" y="629" width="9" height="13" fill="rgb(255,217,217)"/>
<rect x="243" y="616" width="9" height="13" fill="rgb(255,226,226)"/>
<rect x="243" y="603" width="9" height="13" fill="rgb(255,209,209)"/>
<rect x="243" y="590" width="9" height="13" fill="rgb(255,242,242)"/>
<rect x="243" y="577" width="9" height="13" fill="rgb(255,209,209)"/>
<rect x="243" y="538" width="9" height="13" fill="rgb(255,234,234)"/>
<rect x="243" y="525" width="9" height="13" fill="rgb(255,226,226)"/>
<rect x="243" y="512" width="9" height="13" fill="rgb(255,234,234)"/>
<rect x="252" y="616" width="10" height="13" fill="rgb(255,242,242)"/>
<rect x="262" y="825" width="9" height="13" fill="rgb(255,242,242)"/>
<rect x="262" y="785" width="9" height="14" fill="rgb(255,242,242)"/>
<rect x="262" y="733" width="9" height="13" fill="rgb(255,234,234)"/>
<rect x="262" y="720" width="9" height="13" fill="rgb(255,234,234)"/>
<rect x="262" y="681" width="9" height="13" fill="rgb(255,242,242)"/>
<rect x="262" y="668" width="9" height="13" fill="rgb(255,242,242)"/>
<rect x="262" y="655" width="9" height="13" fill="rgb(255,242,242)"/>
<rect x="262" y="642" width="9" height="13" fill="rgb(255,242,242)"/>
<rect x="262" y="629" width="9" height="13" fill="rgb(255,234,234)"/>
<rect x="262" y="616" width="9" height="13" fill="rgb(255,234,234)"/>
<rect x="262" y="603" width="9" height="13" fill="rgb(255,234,234)"/>
<rect x="262" y="577" width="9" height="13" fill="rgb(255,226,226)"/>
<rect x="262" y="538" width="9" height="13" fill="rgb(255,242,242)"/>
<rect x="262" y="525" width="9" height="13" fill="rgb(255,242,242)"/>
<rect x="262" y="512" width="9" height="13" fill="rgb(255,234,234)"/>
<rect x="289" y="707" width="10" height="13" fill="rgb(255,242,242)"/>
<rect x="289" y="668" width="10" height="13" fill="rgb(255,242,242)"/>
<rect x="289" y="603" width="10" height="13" fill="rgb(255,242,242)"/>
<rect x="289" y="590" width="10" height="13" fill="rgb(255,242,242)"/>
<rect x="289" y="525" width="10" height="13" fill="rgb(255,242,242)"/>
<rect x="299" y="616" width="9" height="13" fill="rgb(255,242,242)"/>
<rect x="327" y="759" width="9" height="13" fill="rgb(255,242,242)"/>
<rect x="327" y="707" width="9" height="13" fill="rgb(255,242,242)"/>
<rect x="327" y="681" width="9" height="13" fill="rgb(255,242,242)"/>
<rect x="327" y="590" width="9" height="13" fill="rgb(255,242,242)"/>
<rect x="327" y="525" width="9" height="13" fill="rgb(255,242,242)"/>
<rect x="457" y="838" width="9" height="13" fill="rgb(255,242,242)"/>
<rect x="457" y="825" width="9" height="13" fill="rgb(255,242,242)"/>
<rect x="457" y="812" width="9" height="13" fill="rgb(255,242,242)"/>
<rect x="457" y="799" width="9" height="13" fill="rgb(255,242,242)"/>
<rect x="457" y="785" width="9" height="14" fill="rgb(255,242,242)"/>
<rect x="457" y="772" width="9" height="13" fill="rgb(255,242,242)"/>
<rect x="457" y="759" width="9" height="13" fill="rgb(255,242,242)"/>
<rect x="457" y="746" width="9" height="13" fill="rgb(255,242,242)"/>
<rect x="457" y="720" width="9" height="13" fill="rgb(255,242,242)"/>
<rect x="457" y="707" width="9" height="13" fill="rgb(255,242,242)"/>
<rect x="457" y="694" width="9" height="13" fill="rgb(255,242,242)"/>
<rect x="457" y="668" width="9" height="13" fill="rgb(255,242,242)"/>
<rect x="466" y="838" width="10" height="13" fill="rgb(255,242,242)"/>
<rect x="466" y="812" width="10" height="13" fill="rgb(255,242,242)"/>
<rect x="466" y="799" width="10" height="13" fill="rgb(255,242,242)"/>
<rect x="466" y="785" width="10" height="14" fill="rgb(255,242,242)"/>
<rect x="466" y="746" width="10" height="13" fill="rgb(255,242,242)"/>
<rect x="466" y="733" width="10" height="13" fill="rgb(255,242,242)"/>
<rect x="466" y="720" width="10" height="13" fill="rgb(255,242,242)"/>
<rect x="466" y="681" width="10" height="13" fill="rgb(255,242,242)"/>
<rect x="466" y="616" width="10" height="13" fill="rgb(255,242,242)"/>
<rect x="466" y="590" width="10" height="13" fill="rgb(255,242,242)"/>
<rect x="466" y="551" width="10" height="13" fill="rgb(255,242,242)"/>
<rect x="466" y="525" width="10" height="13" fill="rgb(255,242,242)"/>
<rect x="466" y="512" width="10" height="13" fill="rgb(255,242,242)"/>
<rect x="476" y="772" width="9" height="13" fill="rgb(255,242,242)"/>
<rect x="476" y="759" width="9" height="13" fill="rgb(255,242,242)"/>
<rect x="476" y="707" width="9" height="13" fill="rgb(255,242,242)"/>
<rect x="476" y="681" width="9" height="13" fill="rgb(255,242,242)"/>
<rect x="476" y="668" width="9" height="13" fill="rgb(255,242,242)"/>
<rect x="476" y="655" width="9" height="13" fill="rgb(255,242,242)"/>
<rect x="476" y="616" width="9" height="13" fill="rgb(255,242,242)"/>
<rect x="476" y="603" width="9" height="13" fill="rgb(255,242,242)"/>
<rect x="476" y="590" width="9" height="13" fill="rgb(255,234,234)"/>
<rect x="476" y="551" width="9" height="13" fill="rgb(255,242,242)"/>
<rect x="476" y="525" width="9" height="13" fill="rgb(255,242,242)"/>
<rect x="476" y="512" width="9" height="13" fill="rgb(255,242,242)"/>
<rect x="485" y="812" width="9" height="13" fill="rgb(255,242,242)"/>
<rect x="485" y="785" width="9" height="14" fill="rgb(255,242,242)"/>
<rect x="485" y="733" width="9" height="13" fill="rgb(255,242,242)"/>
<rect x="485" y="720" width="9" height="13" fill="rgb(255,242,242)"/>
<rect x="485" y="681" width="9" height="13" fill="rgb(255,242,242)"/>
<rect x="485" y="616" width="9" height="13" fill="rgb(255,242,242)"/>
<rect x="485" y="577" width="9" height="13" fill="rgb(255,242,242)"/>
<rect x="485" y="512" width="9" height="13" fill="rgb(255,242,242)"/>
<rect x="494" y="838" width="9" height="13" fill="rgb(255,217,217)"/>
<rect x="494" y="825" width="9" height="13" fill="rgb(255,242,242)"/>
<rect x="494" y="812" width="9" height="13" fill="rgb(255,242,242)"/>
<rect x="494" y="799" width="9" height="13" fill="rgb(255,234,234)"/>
<rect x="494" y="785" width="9" height="14" fill="rgb(255,242,242)"/>
<rect x="494" y="772" width="9" height="13" fill="rgb(255,242,242)"/>
<rect x="494" y="759" width="9" height="13" fill="rgb(255,242,242)"/>
<rect x="494" y="746" width="9" height="13" fill="rgb(255,242,242)"/>
<rect x="494" y="655" width="9" height="13" fill="rgb(255,242,242)"/>
<rect x="494" y="629" width="9" height="13" fill="rgb(255,242,242)"/>
<rect x="494" y="616" width="9" height="13" fill="rgb(255,242,242)"/>
<rect x="494" y="603" width="9" height="13" fill="rgb(255,234,234)"/>
<rect x="494" y="590" width="9" height="13" fill="rgb(255,242,242)"/>
<rect x="494" y="577" width="9" height="13" fill="rgb(255,242,242)"/>
<rect x="494" y="538" width="9" height="13" fill="rgb(255,242,242)"/>
<rect x="494" y="525" width="9" height="13" fill="rgb(255,234,234)"/>
<rect x="503" y="590" width="10" height="13" fill="rgb(255,242,242)"/>
<rect x="531" y="720" width="10" height="13" fill="rgb(255,242,242)"/>
<rect x="531" y="577" width="10" height="13" fill="rgb(255,242,242)"/>
</g>
<rect x="47.8" y="511" width="572.5" height="339.2" fill="none" stroke="#000" stroke-width="1.7"/>
<line x1="47.8" x2="54.4" y1="817.58" y2="817.58" stroke="#000" stroke-width="1.5"/>
<text x="40" y="822.86" text-anchor="end" class="b" font-size="16.2">3</text>
<line x1="47.8" x2="54.4" y1="778.45" y2="778.45" stroke="#000" stroke-width="1.5"/>
<text x="40" y="783.72" text-anchor="end" class="b" font-size="16.2">6</text>
<line x1="47.8" x2="54.4" y1="739.31" y2="739.31" stroke="#000" stroke-width="1.5"/>
<text x="40" y="744.58" text-anchor="end" class="b" font-size="16.2">9</text>
<line x1="47.8" x2="54.4" y1="700.17" y2="700.17" stroke="#000" stroke-width="1.5"/>
<text x="40" y="705.44" text-anchor="end" class="b" font-size="16.2">12</text>
<line x1="47.8" x2="54.4" y1="661.03" y2="661.03" stroke="#000" stroke-width="1.5"/>
<text x="40" y="666.31" text-anchor="end" class="b" font-size="16.2">15</text>
<line x1="47.8" x2="54.4" y1="621.89" y2="621.89" stroke="#000" stroke-width="1.5"/>
<text x="40" y="627.17" text-anchor="end" class="b" font-size="16.2">18</text>
<line x1="47.8" x2="54.4" y1="582.75" y2="582.75" stroke="#000" stroke-width="1.5"/>
<text x="40" y="588.03" text-anchor="end" class="b" font-size="16.2">21</text>
<line x1="47.8" x2="54.4" y1="543.62" y2="543.62" stroke="#000" stroke-width="1.5"/>
<text x="40" y="548.89" text-anchor="end" class="b" font-size="16.2">24</text>
<line x1="89.68" x2="89.68" y1="850.2" y2="843.6" stroke="#000" stroke-width="1.5"/>
<text x="89.68" y="871" text-anchor="middle" class="b" font-size="16.2">5</text>
<line x1="136.22" x2="136.22" y1="850.2" y2="843.6" stroke="#000" stroke-width="1.5"/>
<text x="136.22" y="871" text-anchor="middle" class="b" font-size="16.2">10</text>
<line x1="182.75" x2="182.75" y1="850.2" y2="843.6" stroke="#000" stroke-width="1.5"/>
<text x="182.75" y="871" text-anchor="middle" class="b" font-size="16.2">15</text>
<line x1="229.29" x2="229.29" y1="850.2" y2="843.6" stroke="#000" stroke-width="1.5"/>
<text x="229.29" y="871" text-anchor="middle" class="b" font-size="16.2">20</text>
<line x1="275.82" x2="275.82" y1="850.2" y2="843.6" stroke="#000" stroke-width="1.5"/>
<text x="275.82" y="871" text-anchor="middle" class="b" font-size="16.2">25</text>
<line x1="322.36" x2="322.36" y1="850.2" y2="843.6" stroke="#000" stroke-width="1.5"/>
<text x="322.36" y="871" text-anchor="middle" class="b" font-size="16.2">30</text>
<line x1="368.89" x2="368.89" y1="850.2" y2="843.6" stroke="#000" stroke-width="1.5"/>
<text x="368.89" y="871" text-anchor="middle" class="b" font-size="16.2">35</text>
<line x1="415.43" x2="415.43" y1="850.2" y2="843.6" stroke="#000" stroke-width="1.5"/>
<text x="415.43" y="871" text-anchor="middle" class="b" font-size="16.2">40</text>
<line x1="461.96" x2="461.96" y1="850.2" y2="843.6" stroke="#000" stroke-width="1.5"/>
<text x="461.96" y="871" text-anchor="middle" class="b" font-size="16.2">45</text>
<line x1="508.5" x2="508.5" y1="850.2" y2="843.6" stroke="#000" stroke-width="1.5"/>
<text x="508.5" y="871" text-anchor="middle" class="b" font-size="16.2">50</text>
<line x1="555.03" x2="555.03" y1="850.2" y2="843.6" stroke="#000" stroke-width="1.5"/>
<text x="555.03" y="871" text-anchor="middle" class="b" font-size="16.2">55</text>
<line x1="601.57" x2="601.57" y1="850.2" y2="843.6" stroke="#000" stroke-width="1.5"/>
<text x="601.57" y="871" text-anchor="middle" class="b" font-size="16.2">60</text>
<text x="345" y="893.2" text-anchor="middle" class="b" font-size="19.6">Mode order of the P3ABH-DVA</text>
<text transform="translate(16.8,680.6) rotate(-90)" text-anchor="middle" class="b" font-size="19.45">Mode order of the uniform plate</text>
<g shape-rendering="crispEdges">
<rect x="642.0" y="838.9" width="20.4" height="11" fill="rgb(255,255,255)"/>
<rect x="642.0" y="828.31" width="20.4" height="11" fill="rgb(255,255,255)"/>
<rect x="642.0" y="817.71" width="20.4" height="11" fill="rgb(255,242,242)"/>
<rect x="642.0" y="807.11" width="20.4" height="11" fill="rgb(255,234,234)"/>
<rect x="642.0" y="796.52" width="20.4" height="11" fill="rgb(255,226,226)"/>
<rect x="642.0" y="785.92" width="20.4" height="11" fill="rgb(255,217,217)"/>
<rect x="642.0" y="775.32" width="20.4" height="11" fill="rgb(255,209,209)"/>
<rect x="642.0" y="764.73" width="20.4" height="11" fill="rgb(255,201,201)"/>
<rect x="642.0" y="754.13" width="20.4" height="11" fill="rgb(255,192,192)"/>
<rect x="642.0" y="743.53" width="20.4" height="11" fill="rgb(255,184,184)"/>
<rect x="642.0" y="732.93" width="20.4" height="11" fill="rgb(255,176,176)"/>
<rect x="642.0" y="722.34" width="20.4" height="11" fill="rgb(255,167,167)"/>
<rect x="642.0" y="711.74" width="20.4" height="11" fill="rgb(255,159,159)"/>
<rect x="642.0" y="701.14" width="20.4" height="11" fill="rgb(255,150,150)"/>
<rect x="642.0" y="690.55" width="20.4" height="11" fill="rgb(255,142,142)"/>
<rect x="642.0" y="679.95" width="20.4" height="11" fill="rgb(255,134,134)"/>
<rect x="642.0" y="669.35" width="20.4" height="11" fill="rgb(255,125,125)"/>
<rect x="642.0" y="658.76" width="20.4" height="11" fill="rgb(255,117,117)"/>
<rect x="642.0" y="648.16" width="20.4" height="11" fill="rgb(255,109,109)"/>
<rect x="642.0" y="637.56" width="20.4" height="11" fill="rgb(255,100,100)"/>
<rect x="642.0" y="626.97" width="20.4" height="11" fill="rgb(255,92,92)"/>
<rect x="642.0" y="616.37" width="20.4" height="11" fill="rgb(255,84,84)"/>
<rect x="642.0" y="605.77" width="20.4" height="11" fill="rgb(255,75,75)"/>
<rect x="642.0" y="595.17" width="20.4" height="11" fill="rgb(255,67,67)"/>
<rect x="642.0" y="584.58" width="20.4" height="11" fill="rgb(255,59,59)"/>
<rect x="642.0" y="573.98" width="20.4" height="11" fill="rgb(255,50,50)"/>
<rect x="642.0" y="563.38" width="20.4" height="11" fill="rgb(255,42,42)"/>
<rect x="642.0" y="552.79" width="20.4" height="11" fill="rgb(255,33,33)"/>
<rect x="642.0" y="542.19" width="20.4" height="11" fill="rgb(255,25,25)"/>
<rect x="642.0" y="531.59" width="20.4" height="11" fill="rgb(255,17,17)"/>
<rect x="642.0" y="521" width="20.4" height="11" fill="rgb(255,8,8)"/>
<rect x="642.0" y="510.4" width="20.4" height="11" fill="rgb(255,0,0)"/>
</g>
<rect x="642.0" y="510.4" width="20.4" height="339.1" fill="none" stroke="#000" stroke-width="1.4"/>
<line x1="662.4" x2="655.4" y1="839" y2="839" stroke="#000" stroke-width="1.5"/>
<text x="668.2" y="844.5" class="b" font-size="16.3">0.00</text>
<line x1="662.4" x2="655.4" y1="775.26" y2="775.26" stroke="#000" stroke-width="1.5"/>
<text x="668.2" y="780.76" class="b" font-size="16.3">0.12</text>
<line x1="662.4" x2="655.4" y1="711.52" y2="711.52" stroke="#000" stroke-width="1.5"/>
<text x="668.2" y="717.02" class="b" font-size="16.3">0.24</text>
<line x1="662.4" x2="655.4" y1="647.78" y2="647.78" stroke="#000" stroke-width="1.5"/>
<text x="668.2" y="653.28" class="b" font-size="16.3">0.36</text>
<line x1="662.4" x2="655.4" y1="584.04" y2="584.04" stroke="#000" stroke-width="1.5"/>
<text x="668.2" y="589.54" class="b" font-size="16.3">0.48</text>
<line x1="662.4" x2="655.4" y1="520.3" y2="520.3" stroke="#000" stroke-width="1.5"/>
<text x="668.2" y="525.8" class="b" font-size="16.3">0.60</text>
<text x="697.4" y="504.3" text-anchor="end" class="b" font-size="17.9">Coupling coefficients (<tspan font-style="italic" font-size="18.8">&#945;</tspan><tspan font-style="italic" font-size="11.5" dy="4">ij</tspan><tspan dy="-4">)</tspan></text>
<text x="350.4" y="932.3" text-anchor="middle" class="r">(b)</text>
</svg></body></html>
